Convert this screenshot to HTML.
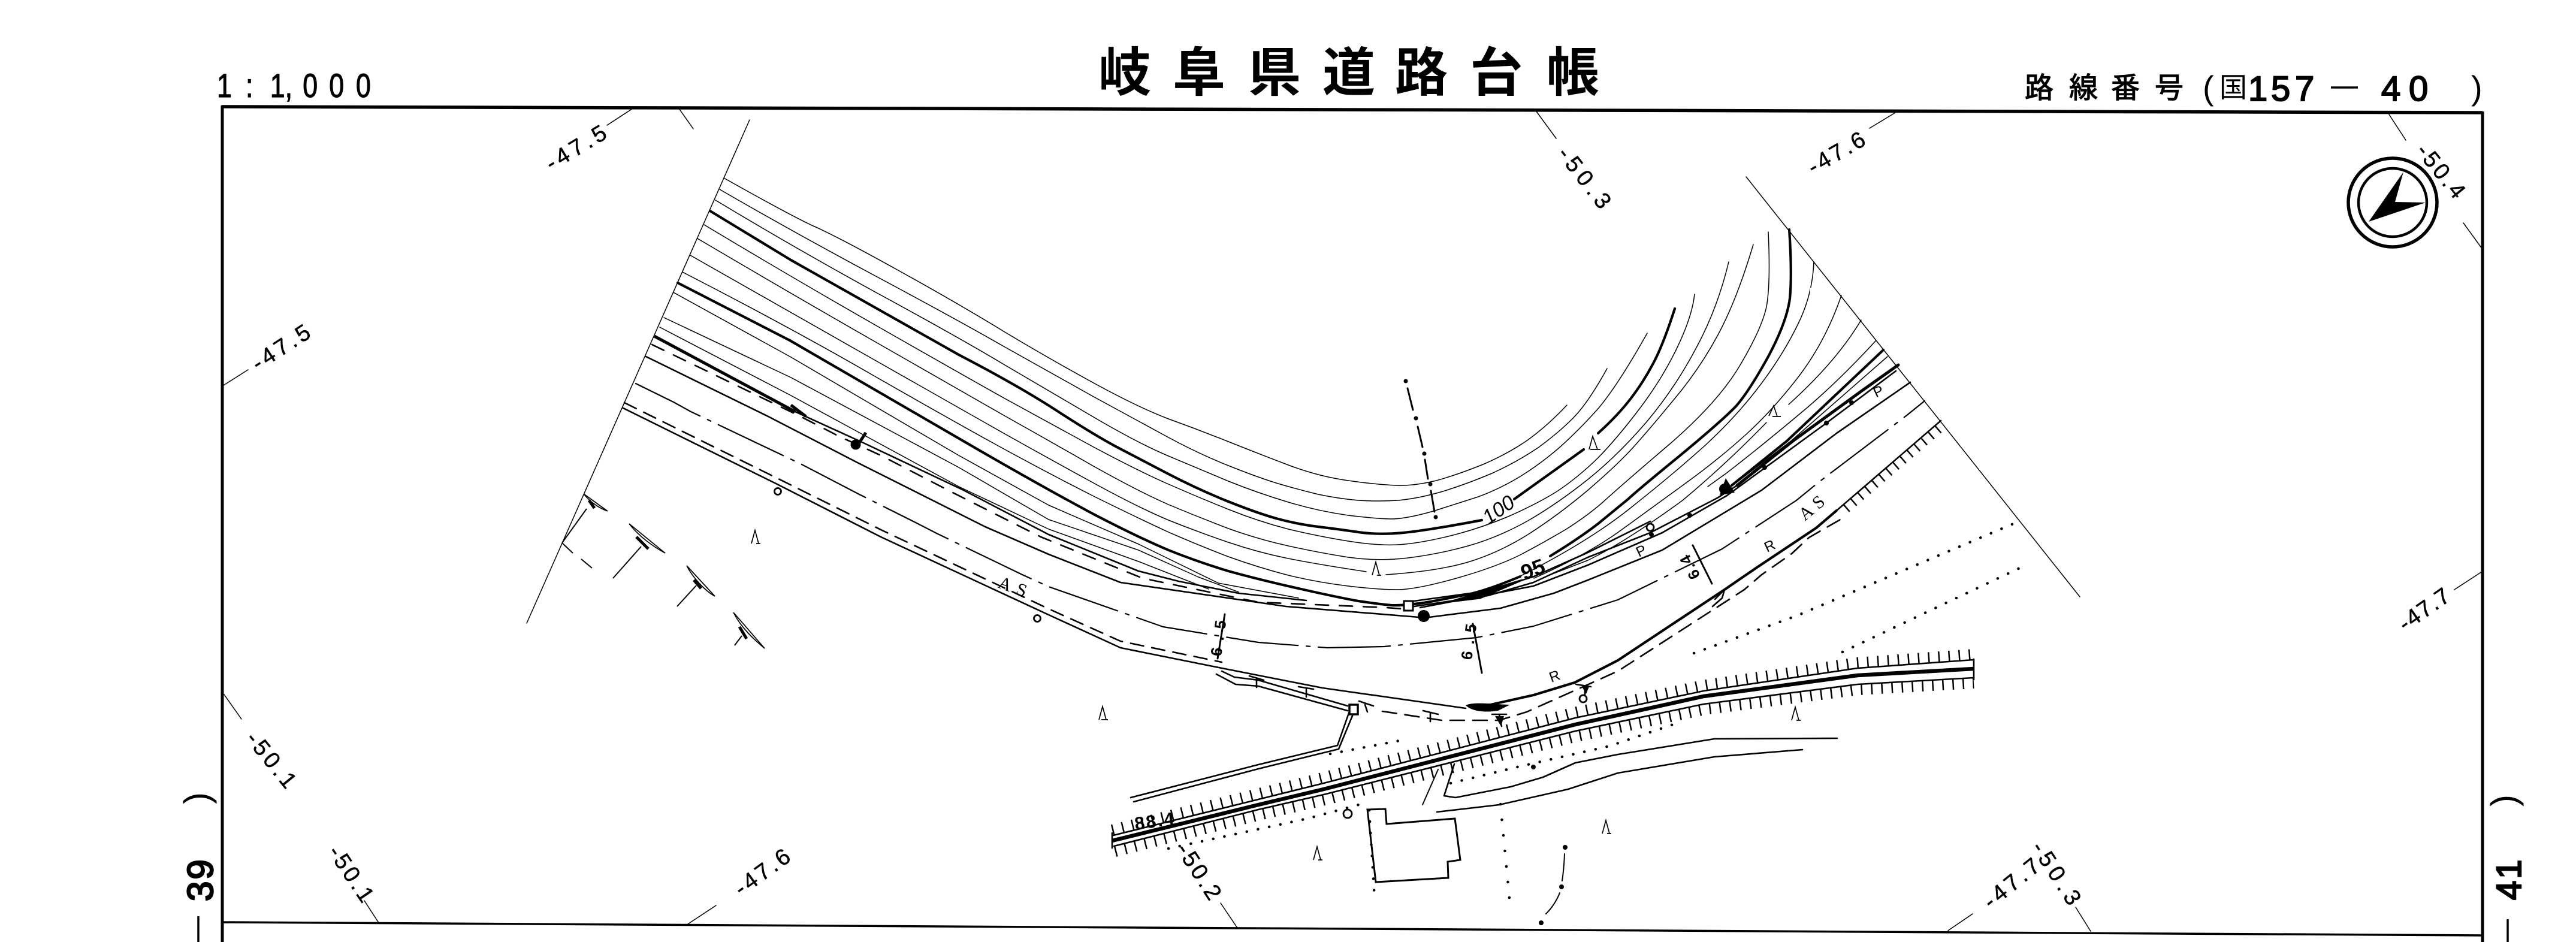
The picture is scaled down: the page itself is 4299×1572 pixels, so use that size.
<!DOCTYPE html>
<html lang="ja"><head><meta charset="utf-8"><title>岐阜県道路台帳</title>
<style>html,body{margin:0;padding:0;background:#fff}svg{display:block}
text{fill:#000;font-family:"Liberation Sans","Noto Sans CJK JP",sans-serif}
.t{fill:none;stroke:#000;stroke-width:1.5;stroke-linejoin:round;stroke-linecap:round}
.m{fill:none;stroke:#000;stroke-width:2.6;stroke-linejoin:round;stroke-linecap:round}
.k{fill:none;stroke:#000;stroke-width:4.2;stroke-linejoin:round;stroke-linecap:round}
.lb{font-size:38px;dominant-baseline:central;stroke:#000;stroke-width:.5}
.s{stroke:#000;stroke-width:1.2}
</style></head><body>
<svg xmlns="http://www.w3.org/2000/svg" width="4299" height="1572" viewBox="0 0 4299 1572">
<rect width="4299" height="1572" fill="#fff"/>
<!-- frame -->
<path d="M370 178L4143 188" fill="none" stroke="#000" stroke-width="5.5"/>
<path d="M371 176V1572M4143 186V1572" fill="none" stroke="#000" stroke-width="5"/>
<path d="M371 1539L4143 1561" fill="none" stroke="#000" stroke-width="3.5"/>
<!-- headers -->
<text class="s" transform="translate(362,162) scale(.8,1)" font-size="56" x="0 60 111 142 179 234 290">1:1,000</text>
<text font-size="88" font-weight="700" y="152" x="1833 1957 2083 2207 2328 2453 2581">岐阜県道路台帳</text>
<text class="s" font-size="48" y="163" x="3379 3453 3523 3596">路線番号</text>
<text font-size="56" y="166" x="3676">(</text>
<text font-size="46" y="162" x="3704">国</text>
<text class="s" style="stroke-width:2" font-size="58" y="168" x="3752 3790 3830">157</text>
<path d="M3890 146H3935" stroke="#000" stroke-width="3.5"/>
<text class="s" style="stroke-width:2" font-size="58" y="168" x="3974 4020">40</text>
<text font-size="56" y="166" x="4124">)</text>
<text class="s" style="stroke-width:2.5" transform="translate(355,1504) rotate(-90)" font-size="60" letter-spacing="3">39</text>
<text transform="translate(349,1342) rotate(-90)" font-size="60">)</text>
<path d="M331 1529V1572M4185 1534V1572" stroke="#000" stroke-width="3.5"/>
<text class="s" style="stroke-width:2.5" transform="translate(4207,1502) rotate(-90)" font-size="58" letter-spacing="3">41</text>
<text transform="translate(4199,1346) rotate(-90)" font-size="60">)</text>
<!-- grid ticks -->
<path class="t" d="M1013 209L1056 181M1133 181L1157 215M373 643L414 617M2564 186L2597 231M3120 214L3163 188M3987 191L4015 234M4111 372L4143 416M4096 984L4142 954M374 1159L403 1200M608 1503L632 1540M1148 1542L1195 1511M2037 1507L2064 1547M3251 1553L3292 1525M3464 1514L3489 1554"/>
<text class="lb" transform="translate(914,276) rotate(-31)" textLength="111">-47.5</text>
<text class="lb" transform="translate(424,610) rotate(-33)" textLength="108">-47.5</text>
<text class="lb" transform="translate(2607,250) rotate(52)" textLength="119">-50.3</text>
<text class="lb" transform="translate(3020,282) rotate(-30)" textLength="104">-47.6</text>
<text class="lb" transform="translate(4040,245) rotate(51)" textLength="105">-50.4</text>
<text class="lb" transform="translate(4007,1045) rotate(-35)" textLength="95">-47.7</text>
<text class="lb" transform="translate(418,1226) rotate(51)" textLength="109">-50.1</text>
<text class="lb" transform="translate(556,1415) rotate(56)" textLength="105">-50.1</text>
<text class="lb" transform="translate(1230,1487) rotate(-36)" textLength="105">-47.6</text>
<text class="lb" transform="translate(1972,1411) rotate(57)" textLength="104">-50.2</text>
<text class="lb" transform="translate(3315,1509) rotate(-39)" textLength="109">-47.7</text>
<text class="lb" transform="translate(3399,1408) rotate(57)" textLength="118">-50.3</text>
<!-- north arrow -->
<circle cx="3993" cy="338" r="74" fill="none" stroke="#000" stroke-width="5.5"/>
<circle cx="3993" cy="338" r="57" fill="none" stroke="#000" stroke-width="4.5"/>
<path d="M4011 287L3997 337L4048 338L3953 370Z" fill="#000"/>
<!-- cut lines -->
<path class="t" d="M1251 200L879 1040M2914 295L3471 996"/>
<!-- contours -->
<path class="t" d="M1208 297Q1320 360 1357 377Q1394 393 1497 450Q1600 507 1675 553Q1750 598 1825 639Q1900 680 1950 699Q2000 717 2050 737Q2100 757 2150 776Q2200 795 2250 802Q2300 809 2330 810Q2360 811 2397 802Q2433 792 2475 775Q2517 757 2550 734Q2583 710 2615 676"/>
<path class="t" d="M1201 316Q1320 385 1460 460Q1600 535 1675 578Q1750 620 1825 662Q1900 703 1950 730Q2000 757 2050 777Q2100 797 2133 807Q2167 817 2200 825Q2233 832 2267 835Q2300 837 2333 835Q2367 832 2408 820Q2450 807 2492 789Q2533 770 2567 747Q2600 723 2625 698Q2650 673 2682 615"/>
<path class="t" d="M1194 334Q1320 410 1460 487Q1600 563 1675 608Q1750 652 1825 696Q1900 740 1950 761Q2000 782 2050 803Q2100 823 2150 838Q2200 853 2250 860Q2300 866 2325 866Q2350 865 2392 853Q2433 840 2467 829Q2500 817 2534 797Q2567 777 2600 749Q2633 720 2667 682Q2700 643 2749 556"/>
<path class="k" d="M1185 352L1320 434L1600 592Q1698 643 1760 683Q1823 724 1862 745Q1900 765 1950 791Q2000 817 2050 837Q2100 857 2133 866Q2167 875 2200 879Q2233 883 2267 888Q2300 893 2342 889Q2383 885 2473 868"/>
<path class="k" d="M2527 833L2643 750M2667 723Q2700 693 2720 667Q2741 640 2757 610Q2774 580 2795 515"/>
<path class="t" d="M1175 375Q1320 462 1460 542Q1600 622 1675 664Q1750 705 1825 746Q1900 786 1950 808Q2000 830 2050 850Q2100 870 2150 883Q2200 895 2250 903Q2300 911 2333 909Q2367 907 2417 895Q2467 883 2517 862Q2567 840 2600 819Q2633 797 2667 764Q2700 730 2737 681Q2774 632 2799 580Q2824 528 2828 491"/>
<path class="t" d="M1164 398Q1320 490 1460 570Q1600 650 1675 693Q1750 735 1825 778Q1900 820 1950 842Q2000 863 2050 882Q2100 900 2150 911Q2200 922 2250 930Q2300 937 2350 931Q2400 925 2450 911Q2500 897 2550 869Q2600 840 2650 800Q2700 760 2748 704Q2795 648 2830 582Q2866 516 2885 437"/>
<path class="t" d="M1152 426Q1320 522 1460 601Q1600 680 1675 723Q1750 765 1825 806Q1900 847 1950 868Q2000 888 2050 905Q2100 922 2150 932Q2200 942 2280 954M2313 959Q2400 953 2450 938Q2500 923 2550 892Q2600 860 2650 818Q2700 775 2727 745Q2754 715 2795 665Q2837 615 2868 557Q2899 499 2926 408"/>
<path class="t" d="M1139 454Q1320 547 1460 628Q1600 708 1675 749Q1750 790 1825 828Q1900 865 1950 888Q2000 910 2050 929Q2100 947 2150 960Q2200 972 2250 978Q2300 984 2334 984Q2367 983 2434 964Q2500 945 2539 925Q2577 905 2614 883Q2650 860 2675 838Q2700 815 2783 744Q2866 673 2903 611Q2940 549 2948 512Q2955 474 2951 387"/>
<path d="M2957 448V474" stroke="#fff" stroke-width="6"/>
<path class="k" d="M1131 472L1318 568Q1523 687 1637 753Q1750 818 1825 858Q1900 897 1950 918Q2000 938 2050 953Q2100 967 2167 982Q2233 997 2267 1003Q2300 1008 2322 1010Q2343 1011 2382 1005Q2420 998 2454 991Q2487 983 2537 962"/>
<path class="k" d="M2587 928Q2633 900 2667 874Q2700 847 2717 833Q2733 818 2804 760Q2874 702 2897 678Q2919 653 2951 595Q2982 537 2987 498Q2991 458 2986 383"/>
<polyline class="t" points="1124,488 1320,596 1600,760 1750,843 1900,908 2033,973 2167,998"/>
<polyline class="t" points="1108,530 1320,630 1600,780 1750,867 1900,918 2000,963 2067,988"/>
<polyline class="t" points="1101,546 1320,660 1600,812 1750,883 1900,937 2017,983"/>
<path class="t" d="M3027 437Q3025 491 3001 540Q2977 590 2938 642Q2899 694 2847 742Q2795 789 2722 847Q2650 905 2530 965"/>
<path d="M3024 480V498" stroke="#fff" stroke-width="6"/>
<path class="t" d="M3073 493Q3048 566 3005 624Q2961 682 2915 724Q2870 765 2815 805Q2760 845 2705 885Q2650 925 2560 965"/>
<path class="t" d="M3106 534Q3065 603 2985 675M2948 705Q2880 775 2808 835Q2712 905 2650 935L2580 962"/>
<path class="t" d="M3131 568Q3065 640 3002 692Q2940 744 2882 789L2850 812"/>
<!-- top road -->
<path d="M1092 561L1327 687" fill="none" stroke="#000" stroke-width="5"/>
<path class="m" d="M1327 687L1443 740L1608 818L1750 892L1900 953L1967 970L2067 990L2180 1002"/>
<polyline class="m" stroke-dasharray="22 18" points="1088,575 1175,617 1336,695 1398,727 1470,760 1586,820 1737,896 1907,965 2100,1005 2314,1014 2340,1016"/>
<path d="M1320 676L1345 695M1428 748L1445 722" stroke="#000" stroke-width="5" fill="none"/>
<circle cx="1428" cy="742" r="8.5" fill="#000"/>
<polyline class="m" points="1078,595 1282,695 1429,771 1644,879 1750,925 1870,972 2146,1012 2368,1030"/>
<polyline class="m" points="2385,1030 2504,1015 2593,990 2650,968 2774,918 2940,818 3065,723 3188,638"/>
<polyline class="t" style="stroke-width:2.2" stroke-dasharray="120 14 6 14" points="1061,640 1124,671 1153,687 1336,774 1434,825 1528,872 1563,890 1706,959 1750,979 1941,1046 2100,1072 2215,1081 2310,1079 2464,1064 2559,1045 2700,1001 2874,916 2998,835 3036,804 3181,694 3212,669"/>
<!-- right bundle -->
<polyline class="k" points="3143,584 2982,736 2890,810"/>
<polyline class="t" points="3150,595 2990,735 2885,815"/>
<polyline class="k" style="stroke-width:5" points="3168,609 3106,653 2992,736 2899,810"/>
<polyline class="m" points="2899,810 2866,831 2754,889 2650,930 2559,972 2483,994 2360,1012"/>
<polyline class="m" points="2360,1003 2483,986 2560,962 2650,922 2754,870"/>
<polyline class="m" points="3164,619 3048,706 2882,827 2774,889 2650,943 2559,978 2370,1014"/>
<path d="M2420 1004L2540 968L2470 998Z" fill="#000" stroke="#000" stroke-width="3"/>
<circle cx="2878" cy="816" r="9" fill="#000"/><path d="M2870 826L2880 798L2895 822Z" fill="#000"/>
<g fill="#000"><circle cx="2756" cy="892" r="4"/><circle cx="2820" cy="860" r="4"/><circle cx="2945" cy="780" r="4"/><circle cx="3048" cy="706" r="4"/><circle cx="3090" cy="672" r="4"/></g>
<!-- lower road -->
<polyline class="m" points="1040,681 1295,807 1470,896 1750,1026 1870,1081 2039,1115 2207,1148 2446,1182"/>
<polyline class="m" stroke-dasharray="22 14" points="1042,672 1295,797 1470,884 1750,1016 1870,1070 2039,1105"/>
<polyline class="k" points="2483,1177 2559,1160 2628,1139 2700,1102 2878,984 2932,947 3031,881 3065,852"/>
<path d="M2446 1177C2460 1170 2500 1176 2520 1176L2500 1186C2475 1190 2455 1186 2446 1177Z" fill="#000"/>
<polyline class="m" stroke-dasharray="24 14" points="2307,1187 2406,1202 2502,1202 2548,1188 2700,1120 2911,984 2940,959 2990,924 3019,897 3073,866"/>
<path class="m" d="M2862 1000L2878 984L2874 998L2858 1012"/>
<!-- right ticks -->
<polyline class="m" points="3065,852 3239,702"/>
<polyline fill="none" stroke="#000" stroke-width="15" stroke-dasharray="2.5 13" points="3081,849 3245,708"/>
<!-- side road -->
<polyline class="m" points="2039,1120 2060,1130 2100,1135 2249,1178"/>
<polyline class="m" points="2030,1125 2062,1142 2100,1145 2249,1186"/>
<rect x="2252" y="1176" width="14" height="16" fill="#fff" stroke="#000" stroke-width="3.5"/>
<polyline class="m" points="2251,1190 2232,1244 2100,1276 1887,1331"/>
<polyline class="m" points="2258,1192 2234,1250 2100,1283 1892,1338"/>
<!-- railway / embankment -->
<polyline fill="none" stroke="#000" stroke-width="6.5" points="1856,1403 2100,1343 2209,1317 2629,1209 2843,1162 3100,1127 3294,1116"/>
<polyline class="m" points="1858,1394 2100,1334 2209,1307 2629,1198 2843,1153 3100,1115 3294,1101"/>
<polyline class="m" points="1859,1412 2100,1351 2209,1326 2629,1220 2843,1175 3100,1142 3294,1131"/>
<polyline fill="none" stroke="#000" stroke-width="18" stroke-dasharray="2.5 14.5" points="1856,1385 2098,1325 2207,1298 2627,1189 2841,1144 3098,1106 3294,1092"/>
<polyline fill="none" stroke="#000" stroke-width="18" stroke-dasharray="2.5 14.5" points="1861,1421 2102,1360 2211,1335 2631,1229 2845,1184 3101,1151 3294,1140"/>
<path class="m" d="M1856 1390V1415M3294 1100V1134"/>
<!-- building -->
<polygon fill="none" stroke="#000" stroke-width="3" points="2282,1351 2312,1350 2314,1375 2428,1366 2437,1435 2416,1438 2417,1465 2296,1472"/>
<!-- lane -->
<polyline class="m" points="3066,1232 2861,1233 2700,1259 2629,1273 2575,1297 2521,1313 2429,1331 2410,1328 2427,1275"/>
<polyline class="m" points="3008,1251 2861,1263 2700,1290 2617,1317 2502,1343 2398,1355"/>
<path class="t" style="stroke-width:2" d="M2400 1284L2374 1343"/>
<!-- dotted -->
<g fill="none" stroke="#000" stroke-width="4.5" stroke-linecap="round" stroke-dasharray="0.1 19">
<path d="M2220 1258L2341 1235"/>
<path d="M1950 1416L2182 1366L2271 1342"/>
<path d="M2421 1307L2532 1280L2686 1245L2807 1204"/>
<path d="M2285 1352L2294 1499"/>
<path stroke-dasharray="0.1 26" d="M2504 1342L2520 1509"/>
<path d="M2827 1090L3000 1027L3360 874"/>
<path d="M3075 1088L3381 943"/>
</g>
<!-- dash-dot pole lines -->
<path class="m" style="stroke-width:3" d="M2349 648L2358 684M2366 712L2374 746M2378 767L2383 799M2388 819L2394 854"/>
<g fill="#000"><circle cx="2346" cy="636" r="3.5"/><circle cx="2363" cy="698" r="3.5"/><circle cx="2377" cy="757" r="3.5"/><circle cx="2387" cy="808" r="3.5"/><circle cx="2396" cy="863" r="3.5"/>
<circle cx="2612" cy="1414" r="4"/><circle cx="2606" cy="1480" r="4"/><circle cx="2572" cy="1540" r="4"/>
<circle cx="2376" cy="1028" r="10"/><circle cx="2559" cy="1280" r="4"/></g>
<path class="t" style="stroke-width:2" d="M2611 1425Q2610 1450 2607 1470M2603 1490Q2595 1510 2580 1525"/>
<rect x="2343" y="1003" width="15" height="16" fill="#fff" stroke="#000" stroke-width="3"/>
<!-- dimensions -->
<path class="m" style="stroke-width:3" d="M2044 1025L2032 1099M2458 1041L2473 1123M2825 910L2857 974"/>
<text transform="translate(2038,1096) rotate(-82)" font-size="26" font-weight="700" letter-spacing="12">6.5</text>
<text transform="translate(2456,1102) rotate(-82)" font-size="26" font-weight="700" letter-spacing="12">6.5</text>
<text transform="translate(2838,961) rotate(-118)" font-size="26" font-weight="700" letter-spacing="3">6.4</text>
<text transform="translate(2501,851) rotate(-35)" font-size="34" font-style="italic" text-anchor="middle" dominant-baseline="central">100</text>
<text transform="translate(2558,950) rotate(-20)" font-size="36" font-weight="700" text-anchor="middle" dominant-baseline="central">95</text>
<text transform="translate(1895,1385) rotate(-8)" font-size="30" font-weight="700" textLength="66">88.4</text>
<g font-size="30" style="font-family:'Liberation Serif',serif"><text transform="translate(1664,980) rotate(20)" style="font-family:'Liberation Serif',serif" letter-spacing="10">AS</text>
<text transform="translate(3012,870) rotate(-40)" style="font-family:'Liberation Serif',serif" letter-spacing="8">AS</text></g>
<text transform="translate(2589,1139) rotate(-20)" font-size="24">R</text><text transform="translate(2949,922) rotate(-25)" font-size="24">R</text>
<text transform="translate(2735,930) rotate(-25)" font-size="24">P</text><text transform="translate(3131,664) rotate(-25)" font-size="24">P</text>
<!-- tree symbols -->
<g fill="none" stroke="#000" stroke-width="1.7">
<path d="M1834 1201L1840 1179L1846 1201M1838 1201H1849"/>
<path d="M2290 960L2296 938L2302 960M2298 960H2305"/>
<path d="M2990 1202L2996 1180L3002 1202M2998 1202H3005"/>
<path d="M2674 1391L2680 1369L2686 1391M2682 1391H2689"/>
<path d="M2192 1435L2198 1413L2204 1435M2200 1435H2207"/>
<path d="M1254 907L1260 885L1266 907M1262 907H1269"/>
<path d="M2652 750L2658 728L2666 750M2654 750H2671"/>
<path d="M2952 694L2960 677L2966 695M2958 695H2972"/>
</g>
<!-- small road marks -->
<path class="m" d="M2085 1128L2109 1135M2097 1132V1147M2167 1146L2192 1150M2180 1150V1163M2268 1170L2292 1178M2278 1176L2282 1188M2375 1186L2400 1192M2387 1190V1204M2490 1192H2514M2502 1192L2506 1212M2630 1142L2655 1146M2645 1146V1160"/>
<path d="M2495 1195L2505 1212L2510 1195Z M2640 1146L2647 1158L2652 1146Z" fill="#000"/>
<g fill="none" stroke="#000" stroke-width="2.8">
<circle cx="1298" cy="820" r="5.5"/><circle cx="1731" cy="1032" r="5.5"/><circle cx="2249" cy="1358" r="7"/><circle cx="2642" cy="1166" r="6"/><circle cx="2754" cy="880" r="6"/>
</g>
<!-- field marks left -->
<g fill="none" stroke="#000" stroke-width="1.7">
<path d="M974 824L1014 853C1000 848 985 838 974 824Z"/>
<path d="M1050 874L1110 923C1090 912 1066 895 1050 874Z"/>
<path d="M1146 944L1193 995C1175 985 1155 962 1146 944Z"/>
<path d="M1224 1022L1276 1082C1262 1070 1238 1050 1224 1022Z"/>
<path stroke-width="2" d="M979 849L938 906M938 906L956 923M970 933L988 948M1070 912L1023 965M1162 977L1130 1012M1238 1061L1226 1077"/>
</g>
<g stroke="#000" stroke-width="5" fill="none"><path d="M983 835L992 848M1062 896L1082 916M1158 968L1170 982M1234 1046L1246 1066"/></g>
</svg>
</body></html>
